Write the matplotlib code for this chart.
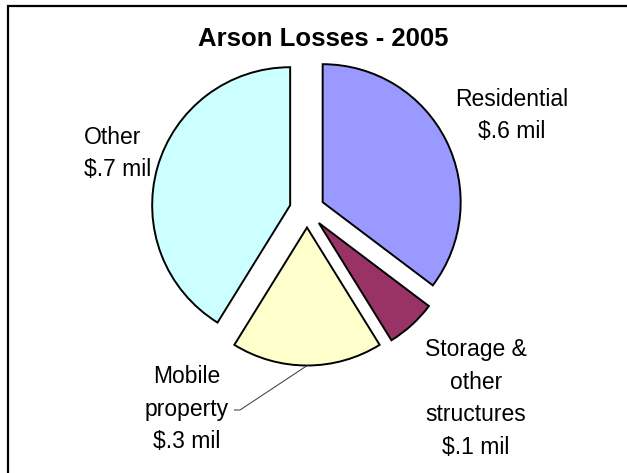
import matplotlib
matplotlib.use("Agg")
import matplotlib.pyplot as plt

# ---- data ----
categories = ["Residential", "Storage &\nother\nstructures", "Mobile\nproperty", "Other"]
values = [0.6, 0.1, 0.3, 0.7]              # $ million
value_labels = ["$.6 mil", "$.1 mil", "$.3 mil", "$.7 mil"]
colors = ["#9999FF", "#993366", "#FFFFCC", "#CCFFFF"]
title = "Arson Losses - 2005"

W, H = 627, 473
FONT = "Liberation Sans"

fig = plt.figure(figsize=(W / 100, H / 100), dpi=100)
ax = fig.add_axes([0, 0, 1, 1])

cx, cy, R = 307, H - 210, 138
explode_px = 17.5
ax.pie(values, colors=colors, startangle=90, counterclock=False,
       explode=[explode_px] * len(values), radius=R, center=(cx, cy),
       wedgeprops=dict(edgecolor="black", linewidth=1.4))
ax.set_xlim(0, W)
ax.set_ylim(0, H)
ax.set_aspect("auto")
ax.axis("off")

# title
ax.text(323, H - 46, title, ha="center", va="baseline", fontsize=18.5,
        fontweight="bold", family=FONT)

# labels: (anchor x, first baseline (px from top), ha)
label_pos = [(512, 106, "center"), (476, 356, "center"),
             (187, 383, "center"), (84, 144, "left")]
step = 32.5
fs = 16.5
for name, vlab, (x, y0, ha) in zip(categories, value_labels, label_pos):
    lines = name.split("\n") + [vlab]
    for i, ln in enumerate(lines):
        ax.text(x, H - (y0 + i * step), ln, ha=ha, va="baseline",
                fontsize=fs, family=FONT, color="black")

# leader line for Mobile property
ax.plot([308, 240, 234], [H - 365, H - 410, H - 410], color="#333333",
        lw=0.7, solid_capstyle="butt")

# chart border: only left and top edges are inside the image
ax.plot([8, 8, W + 20], [-20, H - 6, H - 6], color="black", lw=1.6,
        solid_joinstyle="miter", clip_on=False)

fig.savefig("out.png", dpi=100)
